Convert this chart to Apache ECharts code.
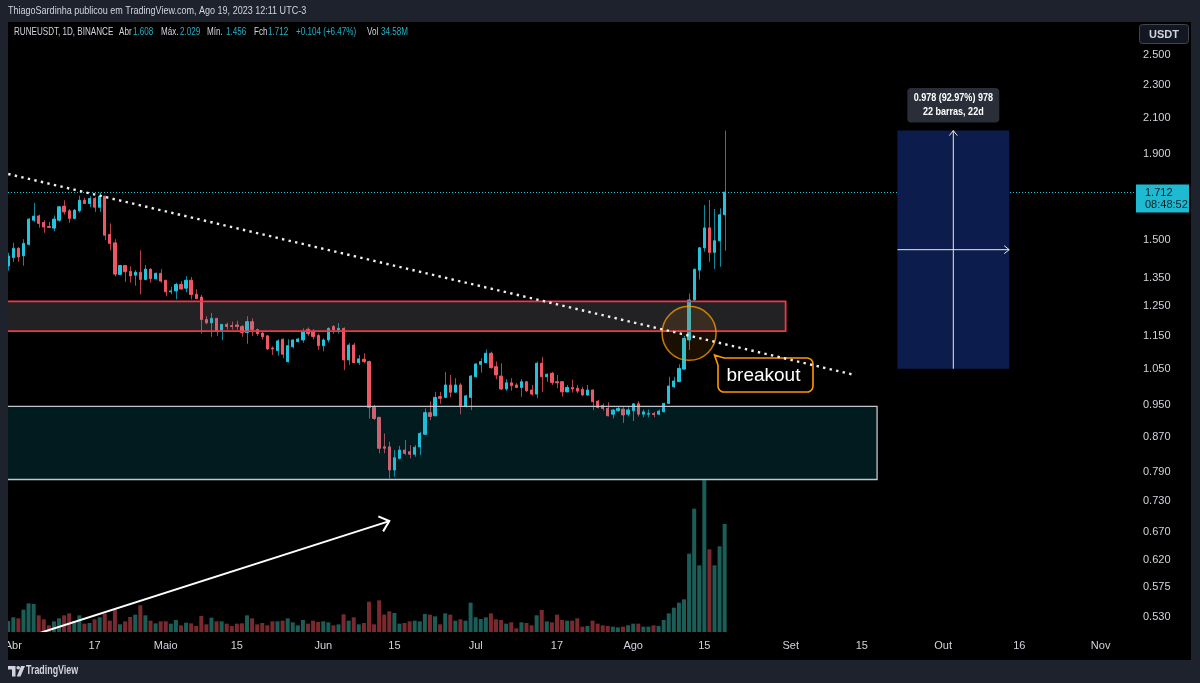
<!DOCTYPE html>
<html>
<head>
<meta charset="utf-8">
<title>RUNEUSDT 1D</title>
<script src="https://cdn.jsdelivr.net/npm/echarts/dist/echarts.min.js"></script>
<style>
html,body{margin:0;padding:0;background:#000;}
#chart{width:1200px;height:683px;}
</style>
</head>
<body>
<div id="chart"></div>
<script>
// ================= DATA =================
const candleStart = '2023-03-31';
const opens = [1.396,1.429,1.466,1.436,1.482,1.584,1.603,1.574,1.557,1.550,
1.584,1.647,1.626,1.592,1.626,1.674,1.659,1.682,1.642,1.693,
1.523,1.488,1.364,1.398,1.375,1.361,1.372,1.345,1.384,1.348,
1.368,1.342,1.300,1.303,1.327,1.313,1.342,1.291,1.281,1.204,
1.193,1.208,1.169,1.188,1.184,1.186,1.181,1.162,1.197,1.171,
1.160,1.151,1.113,1.105,1.140,1.072,1.117,1.133,1.138,1.172,
1.166,1.152,1.120,1.138,1.181,1.170,1.175,1.077,1.122,1.069,
1.079,1.072,0.9445,0.919,0.8473,0.847,0.7945,0.8205,0.8396,0.8357,
0.830,0.847,0.877,0.931,0.923,0.973,0.971,1.005,0.985,1.005,
0.948,0.971,1.028,1.064,1.069,1.097,1.057,1.030,0.994,1.011,
1.005,0.998,1.014,0.991,0.980,1.067,1.028,1.038,1.014,1.014,
0.986,0.998,0.996,0.993,0.9775,0.991,0.961,0.949,0.942,0.927,
0.936,0.940,0.927,0.936,0.954,0.927,0.927,0.929,0.927,0.9333,
0.955,1.000,1.014,1.050,1.138,1.271,1.380,1.468,1.551,1.4495,
1.497,1.608];
const highs = [1.448,1.489,1.470,1.503,1.594,1.662,1.609,1.584,1.577,1.605,
1.647,1.674,1.633,1.633,1.695,1.685,1.693,1.690,1.710,1.695,
1.570,1.503,1.400,1.400,1.394,1.380,1.458,1.400,1.386,1.371,
1.384,1.342,1.318,1.333,1.339,1.357,1.354,1.309,1.289,1.215,
1.226,1.208,1.188,1.194,1.197,1.200,1.186,1.215,1.208,1.174,
1.165,1.153,1.118,1.140,1.143,1.140,1.140,1.145,1.175,1.178,
1.172,1.158,1.143,1.178,1.186,1.192,1.178,1.128,1.128,1.092,
1.097,1.075,0.951,0.920,0.879,0.859,0.8396,0.849,0.863,0.851,
0.851,0.883,0.9421,0.960,0.986,0.986,1.042,1.033,1.024,1.010,
0.978,1.033,1.067,1.082,1.109,1.102,1.072,1.067,1.021,1.024,
1.010,1.021,1.016,1.005,1.072,1.086,1.038,1.042,1.033,1.016,
1.005,1.020,1.005,1.000,1.005,0.993,0.964,0.955,0.958,0.940,
0.947,0.945,0.945,0.955,0.961,0.939,0.939,0.933,0.939,0.957,
1.028,1.028,1.064,1.151,1.294,1.387,1.470,1.652,1.675,1.634,
1.637,2.029];
const lows = [1.378,1.412,1.412,1.397,1.478,1.577,1.552,1.530,1.551,1.536,
1.577,1.609,1.573,1.588,1.618,1.656,1.642,1.621,1.621,1.499,
1.458,1.357,1.360,1.336,1.333,1.322,1.291,1.342,1.333,1.345,
1.333,1.284,1.291,1.273,1.308,1.298,1.273,1.273,1.158,1.189,
1.148,1.151,1.137,1.171,1.171,1.171,1.148,1.126,1.151,1.151,
1.139,1.107,1.092,1.090,1.082,1.069,1.112,1.130,1.129,1.151,
1.140,1.107,1.103,1.130,1.158,1.158,1.047,1.062,1.067,1.062,
1.067,0.916,0.912,0.832,0.832,0.7765,0.780,0.818,0.828,0.8205,
0.8242,0.828,0.875,0.912,0.921,0.954,0.969,0.971,0.984,0.927,
0.9445,0.9377,1.026,1.040,1.067,1.052,1.021,0.991,0.989,0.989,
0.996,0.973,0.986,0.9755,0.969,0.986,1.014,1.005,0.996,0.973,
0.985,0.984,0.982,0.975,0.975,0.9377,0.942,0.936,0.921,0.916,
0.933,0.905,0.921,0.910,0.921,0.919,0.919,0.919,0.925,0.932,
0.954,0.9965,1.014,1.047,1.107,1.265,1.345,1.452,1.412,1.384,
1.393,1.456];
const closes = [1.435,1.466,1.431,1.486,1.589,1.602,1.570,1.555,1.553,1.589,
1.644,1.621,1.592,1.629,1.674,1.659,1.682,1.642,1.693,1.520,
1.486,1.365,1.398,1.374,1.358,1.372,1.345,1.384,1.348,1.368,
1.339,1.300,1.303,1.326,1.310,1.342,1.290,1.276,1.204,1.193,
1.208,1.165,1.188,1.181,1.181,1.181,1.162,1.197,1.171,1.158,
1.148,1.110,1.110,1.135,1.094,1.120,1.138,1.141,1.164,1.158,
1.149,1.120,1.138,1.175,1.170,1.175,1.077,1.122,1.069,1.080,
1.072,0.9445,0.916,0.8436,0.8436,0.7945,0.822,0.8396,0.832,0.830,
0.846,0.879,0.931,0.921,0.971,0.9686,1.005,0.985,1.005,0.9483,
0.975,1.030,1.065,1.072,1.097,1.054,1.033,0.9937,1.011,1.003,
0.998,1.014,0.989,0.980,1.067,1.028,1.035,1.012,1.011,0.986,
0.998,0.994,0.988,0.9775,0.991,0.9595,0.9445,0.942,0.923,0.9377,
0.942,0.925,0.938,0.954,0.927,0.933,0.929,0.926,0.935,0.955,
1.002,1.016,1.052,1.143,1.271,1.383,1.468,1.551,1.4495,1.497,
1.608,1.712];
const volumes = [3.52,4.70,4.38,7.15,9.18,8.97,5.34,4.06,2.13,3.42,
4.38,5.34,5.98,3.52,5.34,2.67,2.88,4.06,4.70,5.87,
3.63,7.26,2.45,3.42,4.80,5.55,8.54,5.34,3.63,2.77,
3.42,3.42,2.67,3.84,2.13,2.99,2.77,1.92,5.12,2.45,
4.59,3.42,3.42,2.67,1.92,2.67,2.77,5.34,4.38,2.45,
2.88,2.13,3.42,3.42,3.63,4.38,3.10,2.13,3.84,2.67,
3.63,3.20,3.42,3.10,2.13,2.45,5.66,3.63,4.70,2.45,
2.88,9.71,2.45,10.14,5.55,6.62,6.08,2.67,2.88,3.42,
3.63,3.42,5.76,5.55,5.02,2.45,5.98,5.55,3.63,4.06,
3.63,9.39,4.70,4.16,4.70,5.98,4.06,3.84,2.67,3.10,
1.17,3.10,2.88,2.13,5.34,7.04,3.42,3.10,5.55,3.84,
3.63,3.63,4.38,1.71,1.92,3.63,2.67,2.13,1.92,1.71,
1.49,1.71,2.13,2.67,2.67,1.71,1.71,2.13,1.92,3.84,
5.98,7.79,9.39,10.46,25.08,39.49,21.35,48.56,26.47,21.35,
27.43,34.58];

const timeTickDates = ['2023-04-01','2023-04-17','2023-05-01','2023-05-15','2023-06-01','2023-06-15','2023-07-01','2023-07-17','2023-08-01','2023-08-15','2023-09-01','2023-09-15','2023-10-01','2023-10-16','2023-11-01'];
const timeTickLabels = ['Abr','17','Maio','15','Jun','15','Jul','17','Ago','15','Set','15','Out','16','Nov'];
const priceTicks = [0.530,0.575,0.620,0.670,0.730,0.790,0.870,0.950,1.050,1.150,1.250,1.350,1.500,1.900,2.100,2.300,2.500];

// drawings: [fromDate, toDate, lowPrice, highPrice]
const resistanceZone = ['2023-03-01','2023-08-31',1.166,1.266];
const supportZone = ['2023-03-01','2023-09-18',0.774,0.947];
const measureBox = ['2023-09-22','2023-10-14',1.051,2.029];
const measureLabel = ['0.978 (92.97%) 978','22 barras, 22d'];
// [date, price] anchor pairs
const trendLine = [['2023-03-31',1.800],['2023-09-13',1.035]];
const volumeArrow = [['2023-04-06',0.506],['2023-06-14',0.690]];
const breakoutCircle = ['2023-08-12',1.159];
const breakoutNote = ['2023-08-17',1.0915,'breakout'];
const symbolInfo = ['RUNEUSDT, 1D, BINANCE'];
const countdown = '08:48:52';
const headerText = 'ThiagoSardinha publicou em TradingView.com, Ago 19, 2023 12:11 UTC-3';

// ================= HELPERS =================
const DAY = 86400000;
const BASE = Date.UTC(2023, 3, 1);
function dayIndex(s) { const p = s.split('-').map(Number); return (Date.UTC(p[0], p[1] - 1, p[2]) - BASE) / DAY; }
const x0 = dayIndex(candleStart);
const lastK = closes.length - 1;

// colours & layout
const UP = '#22c3dc', DOWN = '#f05563';
const WICK_UP = '#12899b', WICK_DOWN = '#b8404b';
const VOL_UP = '#1b5d57', VOL_DOWN = '#7a2a2e';
const VAL = '#1fb3c8';
const FRAME = '#1e222d';
const TXT = '#d1d4dc';
const FONT = '"Liberation Sans", Arial, sans-serif';
const X_MIN = -1.043, X_MAX = 220.76;
const Y_MIN = 0.5079, Y_MAX = 2.739;
const VOL_MAX = 195.3;
const GRID = {left: 8, right: 65, top: 22, bottom: 51};

const tickIdx = timeTickDates.map(dayIndex);

function arcPts(pts, cx, cy, r, a0, a1) {
  for (let a = a0; a <= a1 + 0.01; a += 15) {
    const rad = a * Math.PI / 180;
    pts.push([cx + r * Math.cos(rad), cy + r * Math.sin(rad)]);
  }
}

const single = [[0, 1]];
function customSeries(z, clip, renderItem) {
  return {type: 'custom', xAxisIndex: 0, yAxisIndex: 0, z: z, clip: clip, silent: true,
    data: single, renderItem: renderItem};
}
// condensed text (no narrow font installed: squeeze horizontally)
function ntext(txt, x, y, fill, font, sx) {
  return {type: 'text', z: 101, silent: true, x: x, y: y, scaleX: sx,
    style: {text: txt, x: 0, y: 0, fill: fill, font: font + ' ' + FONT, verticalAlign: 'middle'}};
}

// ================= OPTION =================
const chart = echarts.init(document.getElementById('chart'), null, {renderer: 'canvas'});

const lg = 0.77, lf = '10.5px';
const option = {
  animation: false,
  backgroundColor: '#000000',
  grid: [
    Object.assign({}, GRID),
    Object.assign({}, GRID)
  ],
  xAxis: [
    {gridIndex: 0, type: 'value', min: X_MIN, max: X_MAX,
      axisLine: {show: false}, axisTick: {show: false}, splitLine: {show: false},
      axisLabel: {customValues: tickIdx, color: TXT, fontSize: 11, fontFamily: FONT, margin: 8,
        formatter: v => timeTickLabels[tickIdx.indexOf(Math.round(v))] || ''}},
    {gridIndex: 1, type: 'value', min: X_MIN, max: X_MAX, show: false}
  ],
  yAxis: [
    {gridIndex: 0, type: 'log', position: 'right', min: Y_MIN, max: Y_MAX,
      axisLine: {show: false}, axisTick: {show: false}, splitLine: {show: false},
      axisLabel: {customValues: priceTicks, color: TXT, fontSize: 11, fontFamily: FONT, margin: 8,
        formatter: v => Number(v).toFixed(3)}},
    {gridIndex: 1, type: 'value', min: 0, max: VOL_MAX, show: false}
  ],
  series: [
    // volume
    {type: 'bar', xAxisIndex: 1, yAxisIndex: 1, z: 1, silent: true, barWidth: 4,
      data: volumes.map((v, k) => ({value: [x0 + k, v], itemStyle: {color: closes[k] >= opens[k] ? VOL_UP : VOL_DOWN}}))},
    // last price dotted line
    customSeries(2, true, function (params, api) {
      const p = api.coord([0, closes[lastK]]);
      const y = Math.round(p[1]) + 0.5;
      return {type: 'line', shape: {x1: params.coordSys.x, y1: y, x2: params.coordSys.x + params.coordSys.width, y2: y},
        style: {stroke: UP, lineWidth: 1, lineDash: [1, 2]}};
    }),
    // wicks
    {type: 'custom', xAxisIndex: 0, yAxisIndex: 0, z: 3, silent: true, clip: true,
      data: opens.map((o, k) => [x0 + k, lows[k], highs[k], closes[k] >= o ? 1 : 0]),
      encode: {x: 0, y: [1, 2]},
      renderItem: function (params, api) {
        const x = api.value(0);
        const lo = api.coord([x, api.value(1)]);
        const hi = api.coord([x, api.value(2)]);
        const px = Math.round(lo[0]) + 0.5;
        return {type: 'line', shape: {x1: px, y1: lo[1], x2: px, y2: hi[1]},
          style: {stroke: api.value(3) ? WICK_UP : WICK_DOWN, lineWidth: 1}};
      }},
    // bodies
    {type: 'candlestick', xAxisIndex: 0, yAxisIndex: 0, z: 4, silent: true, barWidth: 2.8,
      encode: {x: 0, y: [1, 2, 3, 4]},
      itemStyle: {color: UP, color0: DOWN, borderColor: UP, borderColor0: DOWN, borderWidth: 1},
      data: opens.map((o, k) => [x0 + k, o, closes[k], Math.min(o, closes[k]), Math.max(o, closes[k])])},
    // support zone
    customSeries(5, true, function (params, api) {
      const a = api.coord([dayIndex(supportZone[0]), supportZone[3]]);
      const b = api.coord([dayIndex(supportZone[1]), supportZone[2]]);
      return {type: 'rect', shape: {x: a[0], y: a[1], width: b[0] - a[0], height: b[1] - a[1]},
        style: {fill: 'rgba(8,170,190,0.16)', stroke: '#c3c5cc', lineWidth: 1.3}};
    }),
    // resistance zone
    customSeries(5, true, function (params, api) {
      const a = api.coord([dayIndex(resistanceZone[0]), resistanceZone[3]]);
      const b = api.coord([dayIndex(resistanceZone[1]), resistanceZone[2]]);
      return {type: 'rect', shape: {x: a[0], y: a[1], width: b[0] - a[0], height: b[1] - a[1]},
        style: {fill: 'rgba(130,132,140,0.26)', stroke: '#f23645', lineWidth: 1.8}};
    }),
    // breakout circle
    customSeries(6, true, function (params, api) {
      const c = api.coord([dayIndex(breakoutCircle[0]), breakoutCircle[1]]);
      return {type: 'circle', shape: {cx: c[0], cy: c[1], r: 27},
        style: {fill: 'rgba(255,152,0,0.10)', stroke: 'rgba(255,152,0,0.78)', lineWidth: 1.5}};
    }),
    // callout
    customSeries(6, true, function (params, api) {
      const t = api.coord([dayIndex(breakoutNote[0]), breakoutNote[1]]);
      const tx = t[0], ty = t[1];
      const L = tx + 3.5, T = ty + 3, R = tx + 98.5, B = ty + 37, r = 6;
      const pts = [[L + 6, T], [R - r, T]];
      arcPts(pts, R - r, T + r, r, -90, 0);
      pts.push([R, B - r]);
      arcPts(pts, R - r, B - r, r, 0, 90);
      pts.push([L + r, B]);
      arcPts(pts, L + r, B - r, r, 90, 180);
      pts.push([L, T + 7]);
      pts.push([tx, ty]);
      return {type: 'group', children: [
        {type: 'polygon', shape: {points: pts}, style: {fill: '#000', stroke: '#ff9800', lineWidth: 1.6}},
        {type: 'text', style: {text: breakoutNote[2], x: (L + R) / 2 - 2, y: (T + B) / 2 + 0.5, fill: '#ffffff',
          font: '19px ' + FONT, align: 'center', verticalAlign: 'middle'}}
      ]};
    }),
    // trend line (dotted)
    customSeries(7, true, function (params, api) {
      const a = api.coord([dayIndex(trendLine[0][0]), trendLine[0][1]]);
      const b = api.coord([dayIndex(trendLine[1][0]), trendLine[1][1]]);
      return {type: 'line', shape: {x1: a[0], y1: a[1], x2: b[0], y2: b[1]},
        style: {stroke: '#f0f0f0', lineWidth: 2.4, lineDash: [2.4, 4.3]}};
    }),
    // white arrow in volume area
    customSeries(7, true, function (params, api) {
      const a = api.coord([dayIndex(volumeArrow[0][0]), volumeArrow[0][1]]);
      const b = api.coord([dayIndex(volumeArrow[1][0]), volumeArrow[1][1]]);
      const ang = Math.atan2(a[1] - b[1], a[0] - b[0]);
      const len = 12, spread = 0.72;
      const p1 = [b[0] + len * Math.cos(ang + spread), b[1] + len * Math.sin(ang + spread)];
      const p2 = [b[0] + len * Math.cos(ang - spread), b[1] + len * Math.sin(ang - spread)];
      return {type: 'group', children: [
        {type: 'line', shape: {x1: a[0], y1: a[1], x2: b[0], y2: b[1]}, style: {stroke: '#ffffff', lineWidth: 2}},
        {type: 'polyline', shape: {points: [p1, b, p2]}, style: {stroke: '#ffffff', lineWidth: 2, fill: null}}
      ]};
    }),
    // measure (price range) box
    customSeries(6, false, function (params, api) {
      const a = api.coord([dayIndex(measureBox[0]), measureBox[3]]);
      const b = api.coord([dayIndex(measureBox[1]), measureBox[2]]);
      const mx = (a[0] + b[0]) / 2, my = (a[1] + b[1]) / 2;
      const lc = '#f2ecc4';
      return {type: 'group', children: [
        {type: 'rect', shape: {x: a[0], y: a[1], width: b[0] - a[0], height: b[1] - a[1]}, style: {fill: '#0c1c4d'}},
        {type: 'line', shape: {x1: mx, y1: b[1], x2: mx, y2: a[1]}, style: {stroke: lc, lineWidth: 1}},
        {type: 'polyline', shape: {points: [[mx - 4, a[1] + 5], [mx, a[1]], [mx + 4, a[1] + 5]]}, style: {stroke: lc, lineWidth: 1, fill: null}},
        {type: 'line', shape: {x1: a[0], y1: my, x2: b[0], y2: my}, style: {stroke: lc, lineWidth: 1}},
        {type: 'polyline', shape: {points: [[b[0] - 5, my - 4], [b[0], my], [b[0] - 5, my + 4]]}, style: {stroke: lc, lineWidth: 1, fill: null}},
        {type: 'rect', shape: {x: mx - 46, y: a[1] - 42.5, width: 92, height: 34.5, r: 4}, style: {fill: '#2a2e39'}},
        {type: 'text', x: mx, y: a[1] - 32.5, scaleX: 0.86, style: {text: measureLabel[0], x: 0, y: 0, fill: '#ffffff', font: 'bold 10.5px ' + FONT, align: 'center', verticalAlign: 'middle'}},
        {type: 'text', x: mx, y: a[1] - 18.5, scaleX: 0.86, style: {text: measureLabel[1], x: 0, y: 0, fill: '#ffffff', font: 'bold 10.5px ' + FONT, align: 'center', verticalAlign: 'middle'}}
      ]};
    }),
    // last price label on the price scale
    customSeries(10, false, function (params, api) {
      const p = api.coord([0, closes[lastK]]);
      const y = Math.round(p[1]);
      const bx = params.coordSys.x + params.coordSys.width + 1;
      return {type: 'group', children: [
        {type: 'rect', shape: {x: bx, y: y - 7.5, width: 53, height: 28}, style: {fill: '#1ebad2'}},
        {type: 'text', style: {text: closes[lastK].toFixed(3), x: bx + 9, y: y + 1, fill: '#0b1e24', font: '11px ' + FONT, verticalAlign: 'middle'}},
        {type: 'text', style: {text: countdown, x: bx + 9, y: y + 12.5, fill: '#0b1e24', font: '11px ' + FONT, verticalAlign: 'middle'}}
      ]};
    })
  ],
  graphic: [
    {type: 'rect', z: 100, silent: true, shape: {x: 0, y: 0, width: 1200, height: 22}, style: {fill: FRAME}},
    {type: 'rect', z: 100, silent: true, shape: {x: 0, y: 0, width: 8, height: 683}, style: {fill: FRAME}},
    {type: 'rect', z: 100, silent: true, shape: {x: 1191, y: 0, width: 9, height: 683}, style: {fill: FRAME}},
    {type: 'rect', z: 100, silent: true, shape: {x: 0, y: 660, width: 1200, height: 23}, style: {fill: FRAME}},
    ntext(headerText, 8, 11, TXT, '11px', 0.82),
    // TradingView logo
    {type: 'group', z: 101, silent: true, children: [
      {type: 'polygon', z: 101, shape: {points: [[8, 666], [15.5, 666], [15.5, 676.5], [12, 676.5], [12, 669.5], [8, 669.5]]}, style: {fill: TXT}},
      {type: 'circle', z: 101, shape: {cx: 18.2, cy: 667.8, r: 1.8}, style: {fill: TXT}},
      {type: 'polygon', z: 101, shape: {points: [[21, 666], [25, 666], [20.5, 676.5], [16.8, 676.5]]}, style: {fill: TXT}}
    ]},
    ntext('TradingView', 26, 671, TXT, 'bold 12px', 0.74),
    // currency button
    {type: 'rect', z: 101, silent: true, shape: {x: 1139.5, y: 24.5, width: 49, height: 19, r: 3}, style: {fill: '#131722', stroke: '#434651', lineWidth: 1}},
    {type: 'text', z: 102, silent: true, style: {text: 'USDT', x: 1164, y: 34.5, fill: TXT, font: 'bold 11px ' + FONT, align: 'center', verticalAlign: 'middle'}},
    // legend
    ntext(symbolInfo[0], 14, 32.5, TXT, lf, lg),
    ntext('Abr', 119, 32.5, TXT, lf, lg),
    ntext(opens[lastK].toFixed(3), 133, 32.5, VAL, lf, lg),
    ntext('Máx.', 161, 32.5, TXT, lf, lg),
    ntext(highs[lastK].toFixed(3), 180, 32.5, VAL, lf, lg),
    ntext('Mín.', 207, 32.5, TXT, lf, lg),
    ntext(lows[lastK].toFixed(3), 226, 32.5, VAL, lf, lg),
    ntext('Fch', 254, 32.5, TXT, lf, lg),
    ntext(closes[lastK].toFixed(3), 268, 32.5, VAL, lf, lg),
    ntext('+' + (closes[lastK] - closes[lastK - 1]).toFixed(3) + ' (+' + ((closes[lastK] / closes[lastK - 1] - 1) * 100).toFixed(2) + '%)', 296, 32.5, VAL, lf, lg),
    ntext('Vol', 367, 32.5, TXT, lf, lg),
    ntext(volumes[lastK].toFixed(2) + 'M', 381, 32.5, VAL, lf, lg)
  ]
};
chart.setOption(option);
</script>
</body>
</html>
